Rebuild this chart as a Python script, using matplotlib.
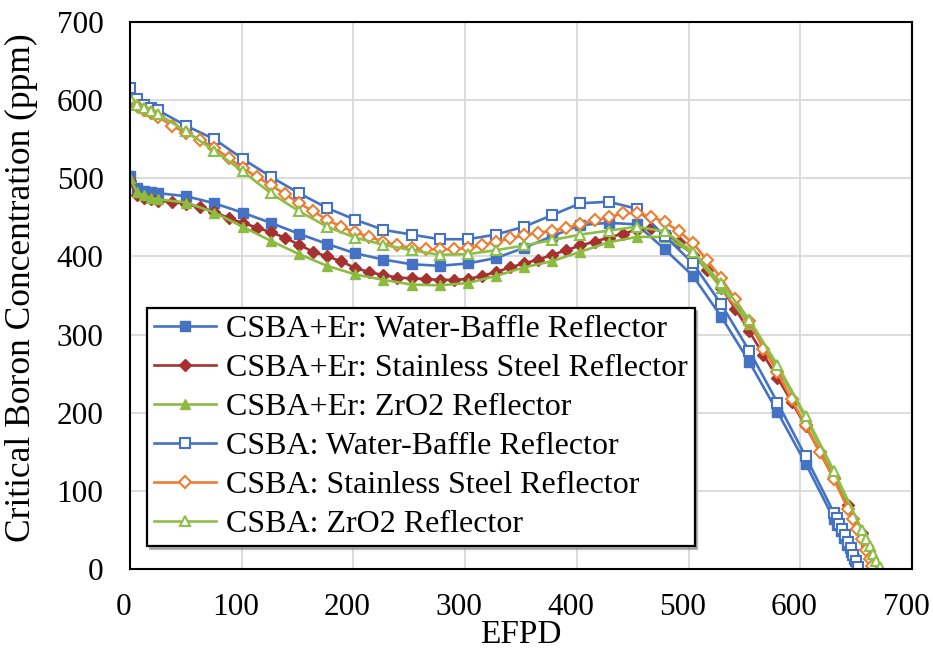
import matplotlib
matplotlib.use("Agg")
import matplotlib.pyplot as plt
import matplotlib.transforms as mtransforms

plt.rcParams['font.family'] = ['Liberation Serif', 'DejaVu Serif']

# ---------------- data ----------------
labels = [
    "CSBA+Er: Water-Baffle Reflector",
    "CSBA+Er: Stainless Steel Reflector",
    "CSBA+Er: ZrO2 Reflector",
    "CSBA: Water-Baffle Reflector",
    "CSBA: Stainless Steel Reflector",
    "CSBA: ZrO2 Reflector",
]

# CSBA+Er, water-baffle reflector
er_wb_x = [0, 6.3, 12.6, 18.9, 25.2, 50.4, 75.6, 100.8, 126.0, 151.2, 176.4, 201.6, 226.8,
           252.0, 277.2, 302.4, 327.6, 352.8, 378.0, 403.2, 428.4, 453.6, 478.8, 504.0,
           529.2, 554.4, 579.6, 604.8, 630.0, 633, 636, 639, 642, 645, 648, 651]
er_wb_y = [503, 487, 484, 482, 481, 477, 468, 456, 443, 429, 416, 404, 396,
           390, 388, 391, 398, 411, 426, 440, 443, 441, 409, 375,
           323, 265, 201, 135, 64, 56, 48, 40, 31, 22, 13, 3]

# CSBA+Er, stainless steel reflector
er_ss_x = [0, 6.3, 12.6, 18.9, 25.2, 37.8, 50.4, 63.0, 75.6, 88.2, 100.8, 113.4, 126.0,
           138.6, 151.2, 163.8, 176.4, 189.0, 201.6, 214.2, 226.8, 239.4, 252.0, 264.6,
           277.2, 289.8, 302.4, 315.0, 327.6, 340.2, 352.8, 365.4, 378.0, 390.6, 403.2,
           415.8, 428.4, 441.0, 453.6, 466.2, 478.8, 491.4, 504.0, 516.6, 529.2, 541.8,
           554.4, 567.0, 579.6, 592.2, 604.8, 617.4, 630.0, 642.6, 655.2, 660, 664, 666]
er_ss_y = [497, 478, 475, 473, 471, 470, 467, 463, 457, 449, 443, 437, 431,
           424, 415, 406, 400, 394, 385, 380, 376, 373, 372, 371,
           370, 370, 371, 375, 380, 386, 391, 396, 402, 408, 414,
           419, 424, 429, 434, 437, 430, 418, 402, 383, 360, 333,
           304, 274, 245, 214, 183, 150, 116, 82, 46, 30, 12, 3]

# CSBA+Er, ZrO2 reflector
er_zr_x = [0, 6.3, 12.6, 18.9, 25.2, 50.4, 75.6, 100.8, 126.0, 151.2, 176.4, 201.6, 226.8,
           252.0, 277.2, 302.4, 327.6, 352.8, 378.0, 403.2, 428.4, 453.6, 478.8, 504.0,
           529.2, 554.4, 579.6, 604.8, 630.0, 655.2, 660, 664, 668, 671]
er_zr_y = [500, 482, 478, 475, 473, 469, 456, 438, 420, 403, 388, 377, 370,
           364, 363, 366, 375, 386, 394, 406, 418, 425, 425, 404,
           360, 313, 258, 193, 122, 48, 33, 21, 9, 2]

# CSBA, water-baffle reflector
cs_wb_x = [0, 6.3, 12.6, 18.9, 25.2, 50.4, 75.6, 100.8, 126.0, 151.2, 176.4, 201.6, 226.8,
           252.0, 277.2, 302.4, 327.6, 352.8, 378.0, 403.2, 428.4, 453.6, 478.8, 504.0,
           529.2, 554.4, 579.6, 604.8, 630.0, 632.5, 635, 637.5, 640, 642.5, 645, 647.5,
           650, 652]
cs_wb_y = [615, 601, 594, 590, 587, 567, 550, 525, 502, 481, 462, 447, 434,
           428, 422, 422, 428, 438, 453, 468, 470, 461, 426, 391,
           339, 279, 213, 144, 72, 65, 58, 51, 43, 35, 27,
           18, 10, 3]

# CSBA, stainless steel reflector
cs_ss_x = [0, 6.3, 12.6, 18.9, 25.2, 37.8, 50.4, 63.0, 75.6, 88.2, 100.8, 113.4, 126.0,
           138.6, 151.2, 163.8, 176.4, 189.0, 201.6, 214.2, 226.8, 239.4, 252.0, 264.6,
           277.2, 289.8, 302.4, 315.0, 327.6, 340.2, 352.8, 365.4, 378.0, 390.6, 403.2,
           415.8, 428.4, 441.0, 453.6, 466.2, 478.8, 491.4, 504.0, 516.6, 529.2, 541.8,
           554.4, 567.0, 579.6, 592.2, 604.8, 617.4, 630.0, 642.6, 647, 651, 655, 659,
           662, 664.5]
cs_ss_y = [598, 592, 587, 583, 579, 567, 558, 549, 539, 526, 513, 502, 491,
           480, 468, 458, 447, 438, 431, 425, 419, 414, 411, 409,
           409, 409, 411, 414, 419, 423, 427, 430, 433, 436, 442,
           446, 450, 455, 456, 451, 444, 432, 417, 395, 372, 345,
           317, 282, 252, 217, 184, 150, 115, 77, 64, 51, 38, 24,
           13, 4]

# CSBA, ZrO2 reflector
cs_zr_x = [0, 6.3, 12.6, 18.9, 25.2, 50.4, 75.6, 100.8, 126.0, 151.2, 176.4, 201.6, 226.8,
           252.0, 277.2, 302.4, 327.6, 352.8, 378.0, 403.2, 428.4, 453.6, 478.8, 504.0,
           529.2, 554.4, 579.6, 604.8, 630.0, 655.2, 659, 662, 665, 668, 671]
cs_zr_y = [603, 594, 590, 586, 582, 560, 535, 509, 481, 458, 438, 424, 415,
           408, 402, 403, 408, 414, 421, 428, 433, 438, 432, 406,
           366, 319, 261, 196, 126, 50, 38, 29, 19, 10, 2]

x_ticks = [0, 100, 200, 300, 400, 500, 600, 700]
y_ticks = [0, 100, 200, 300, 400, 500, 600, 700]

# ---------------- style ----------------
blue = '#4472C4'
red = '#A5322E'
green = '#8DBB40'
orange = '#ED7D31'
green2 = '#8CC048'

fig = plt.figure(figsize=(9.33, 6.59), dpi=100)
ax = fig.add_axes([130/933, 1 - 569/659, (912 - 130)/933, (569 - 22)/659])

lw = 1.9
series = [
    (er_wb_x, er_wb_y, dict(color=blue, marker='s', ms=6.6, mfc=blue, mec=blue)),
    (er_ss_x, er_ss_y, dict(color=red, marker='D', ms=6.2, mfc=red, mec=red)),
    (er_zr_x, er_zr_y, dict(color=green, marker='^', ms=7.6, mfc=green, mec=green)),
    (cs_wb_x, cs_wb_y, dict(color=blue, marker='s', ms=7.3, mfc='white', mec=blue, mew=1.5)),
    (cs_ss_x, cs_ss_y, dict(color=orange, marker='D', ms=6.6, mfc='white', mec=orange, mew=1.5)),
    (cs_zr_x, cs_zr_y, dict(color=green2, marker='^', ms=7.8, mfc='white', mec=green2, mew=1.5)),
]
for (xs, ys, st), lab in zip(series, labels):
    ax.plot(xs, ys, lw=lw, label=lab, **st)

ax.set_xlim(0, 700)
ax.set_ylim(0, 700)
ax.set_xticks(x_ticks)
ax.set_yticks(y_ticks)
ax.tick_params(axis='both', length=0, labelsize=22.5)
ax.tick_params(axis='x', pad=17)
ax.tick_params(axis='y', pad=19)
shift = mtransforms.ScaledTranslation(-6/100, 0, fig.dpi_scale_trans)
for lbl in ax.get_xticklabels():
    lbl.set_transform(lbl.get_transform() + shift)
ax.grid(True, color='#D9D9D9', lw=1.3)
ax.set_axisbelow(True)
for s in ['left', 'bottom', 'right', 'top']:
    ax.spines[s].set_color('black')
    ax.spines[s].set_linewidth(1.5)

ax.set_xlabel('EFPD', fontsize=24, labelpad=-1.5)
ax.set_ylabel('Critical Boron Concentration (ppm)', fontsize=25.5)
ax.yaxis.set_label_coords(-0.1176, 0.514)

leg = ax.legend(loc='upper left', bbox_to_anchor=(147/933, 1 - 308/659),
                bbox_transform=fig.transFigure, borderaxespad=0,
                fontsize=23, frameon=True, fancybox=False,
                edgecolor='black', framealpha=1, handlelength=1.95,
                handletextpad=0.3, labelspacing=0.3, borderpad=0.22,
                shadow={'color': '0.55', 'alpha': 0.6})
leg.get_frame().set_linewidth(1.6)

fig.savefig('out.png', dpi=100)
